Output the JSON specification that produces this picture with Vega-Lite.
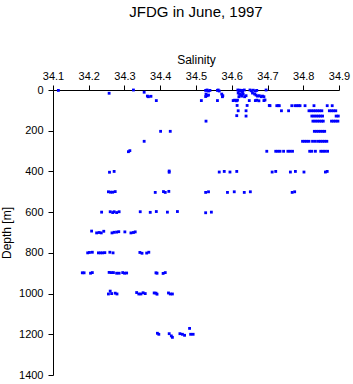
{
  "$schema": "https://vega.github.io/schema/vega-lite/v6.json",
  "width": 286,
  "height": 285,
  "autosize": "none",
  "padding": {"left": 53, "top": 90, "right": 14, "bottom": 9},
  "title": {"text": "JFDG in June, 1997", "fontSize": 15, "font": "Liberation Sans", "fontWeight": "normal", "color": "black", "offset": 33, "anchor": "middle"},
  "config": {
    "view": {"stroke": null},
    "font": "Liberation Sans",
    "axis": {"grid": false, "domainColor": "black", "tickColor": "black", "labelColor": "black", "titleColor": "black", "labelFontSize": 11, "titleFontSize": 12, "titleFontWeight": "normal", "labelFont": "Liberation Sans", "titleFont": "Liberation Sans", "tickSize": 5, "labelFlush": false}
  },
  "data": {"values": [
    {"s":34.115,"d":2},{"s":34.257,"d":16},{"s":34.325,"d":0},{"s":34.355,"d":11},{"s":34.364,"d":30},{"s":34.374,"d":31},{"s":34.367,"d":33},{"s":34.389,"d":52},
    {"s":34.527,"d":2},{"s":34.531,"d":0},{"s":34.535,"d":5},{"s":34.539,"d":2},{"s":34.528,"d":20},{"s":34.531,"d":28},{"s":34.535,"d":25},{"s":34.527,"d":32},{"s":34.515,"d":52},
    {"s":34.562,"d":0},{"s":34.565,"d":5},{"s":34.560,"d":2},{"s":34.572,"d":20},{"s":34.575,"d":28},{"s":34.574,"d":33},{"s":34.560,"d":52},
    {"s":34.617,"d":0},{"s":34.620,"d":4},{"s":34.623,"d":1},{"s":34.627,"d":5},{"s":34.630,"d":2},{"s":34.635,"d":0},
    {"s":34.618,"d":15},{"s":34.622,"d":20},{"s":34.625,"d":25},{"s":34.628,"d":30},{"s":34.632,"d":20},{"s":34.636,"d":33},{"s":34.640,"d":28},{"s":34.620,"d":33},{"s":34.630,"d":12},
    {"s":34.604,"d":52},{"s":34.608,"d":50},{"s":34.613,"d":53},{"s":34.616,"d":50},
    {"s":34.615,"d":76},{"s":34.643,"d":76},{"s":34.618,"d":102},{"s":34.640,"d":102},{"s":34.614,"d":126},{"s":34.640,"d":128},
    {"s":34.651,"d":0},{"s":34.655,"d":4},{"s":34.660,"d":1},{"s":34.666,"d":5},{"s":34.670,"d":2},
    {"s":34.658,"d":15},{"s":34.664,"d":20},{"s":34.668,"d":25},{"s":34.672,"d":30},{"s":34.677,"d":28},{"s":34.682,"d":33},{"s":34.686,"d":30},{"s":34.690,"d":33},
    {"s":34.649,"d":52},{"s":34.666,"d":52},{"s":34.670,"d":50},{"s":34.676,"d":53},{"s":34.690,"d":52},{"s":34.693,"d":49},
    {"s":34.696,"d":0},{"s":34.705,"d":76},
    {"s":34.707,"d":77},{"s":34.726,"d":77},{"s":34.730,"d":77},{"s":34.733,"d":77},{"s":34.768,"d":77},{"s":34.777,"d":77},{"s":34.782,"d":77},{"s":34.787,"d":77},{"s":34.791,"d":77},{"s":34.805,"d":77},{"s":34.830,"d":77},{"s":34.867,"d":77},{"s":34.881,"d":77},
    {"s":34.739,"d":102},{"s":34.759,"d":102},{"s":34.816,"d":102},{"s":34.822,"d":102},{"s":34.828,"d":102},{"s":34.834,"d":102},{"s":34.840,"d":102},{"s":34.846,"d":102},{"s":34.852,"d":102},{"s":34.873,"d":102},{"s":34.879,"d":102},{"s":34.885,"d":102},{"s":34.891,"d":102},
    {"s":34.824,"d":128},{"s":34.830,"d":128},{"s":34.836,"d":128},{"s":34.842,"d":128},{"s":34.848,"d":128},{"s":34.854,"d":128},{"s":34.892,"d":128},{"s":34.898,"d":128},
    {"s":34.827,"d":153},{"s":34.833,"d":153},{"s":34.839,"d":153},{"s":34.845,"d":153},{"s":34.851,"d":153},{"s":34.856,"d":153},{"s":34.879,"d":153},{"s":34.885,"d":153},{"s":34.891,"d":153},{"s":34.897,"d":153},
    {"s":34.401,"d":203},{"s":34.428,"d":203},{"s":34.831,"d":203},{"s":34.837,"d":203},{"s":34.843,"d":203},{"s":34.849,"d":203},{"s":34.855,"d":203},{"s":34.860,"d":203},
    {"s":34.355,"d":252},{"s":34.798,"d":252},{"s":34.804,"d":252},{"s":34.810,"d":252},{"s":34.816,"d":252},{"s":34.826,"d":252},{"s":34.834,"d":252},{"s":34.842,"d":252},{"s":34.848,"d":252},{"s":34.854,"d":252},{"s":34.860,"d":252},{"s":34.866,"d":252},
    {"s":34.311,"d":303},{"s":34.315,"d":298},{"s":34.528,"d":153},
    {"s":34.698,"d":301},{"s":34.723,"d":301},{"s":34.729,"d":301},{"s":34.735,"d":301},{"s":34.745,"d":301},{"s":34.757,"d":301},{"s":34.763,"d":301},{"s":34.770,"d":301},{"s":34.818,"d":301},{"s":34.824,"d":301},{"s":34.834,"d":301},{"s":34.849,"d":301},{"s":34.855,"d":301},{"s":34.861,"d":301},{"s":34.868,"d":301},
    {"s":34.258,"d":404},{"s":34.271,"d":400},{"s":34.425,"d":398},{"s":34.425,"d":404},
    {"s":34.565,"d":403},{"s":34.579,"d":400},{"s":34.595,"d":403},{"s":34.614,"d":400},{"s":34.713,"d":403},{"s":34.723,"d":400},{"s":34.764,"d":403},{"s":34.778,"d":400},{"s":34.802,"d":403},{"s":34.862,"d":403},{"s":34.867,"d":400},
    {"s":34.255,"d":500},{"s":34.261,"d":502},{"s":34.267,"d":502},{"s":34.274,"d":499},{"s":34.386,"d":503},{"s":34.409,"d":499},{"s":34.414,"d":503},{"s":34.424,"d":498},
    {"s":34.527,"d":503},{"s":34.535,"d":500},{"s":34.588,"d":503},{"s":34.607,"d":500},{"s":34.635,"d":503},{"s":34.652,"d":500},{"s":34.769,"d":503},{"s":34.776,"d":500},
    {"s":34.236,"d":600},{"s":34.260,"d":598},{"s":34.267,"d":602},{"s":34.271,"d":598},{"s":34.278,"d":602},{"s":34.285,"d":598},{"s":34.344,"d":598},{"s":34.372,"d":601},{"s":34.389,"d":597},{"s":34.420,"d":600},{"s":34.448,"d":597},
    {"s":34.527,"d":603},{"s":34.543,"d":600},
    {"s":34.208,"d":693},{"s":34.222,"d":702},{"s":34.229,"d":700},{"s":34.235,"d":702},{"s":34.242,"d":694},{"s":34.265,"d":702},{"s":34.271,"d":699},{"s":34.278,"d":698},{"s":34.284,"d":696},{"s":34.301,"d":697},{"s":34.318,"d":702},{"s":34.325,"d":700},{"s":34.330,"d":697},
    {"s":34.197,"d":800},{"s":34.202,"d":798},{"s":34.210,"d":797},{"s":34.227,"d":800},{"s":34.233,"d":800},{"s":34.239,"d":800},{"s":34.245,"d":799},{"s":34.259,"d":797},{"s":34.268,"d":800},{"s":34.343,"d":798},{"s":34.349,"d":802},{"s":34.362,"d":801},{"s":34.368,"d":797},
    {"s":34.182,"d":898},{"s":34.187,"d":898},{"s":34.205,"d":900},{"s":34.210,"d":897},{"s":34.257,"d":896},{"s":34.263,"d":897},{"s":34.269,"d":897},{"s":34.278,"d":900},{"s":34.285,"d":900},{"s":34.295,"d":897},{"s":34.300,"d":900},{"s":34.306,"d":899},{"s":34.388,"d":898},{"s":34.391,"d":900},{"s":34.408,"d":901},{"s":34.414,"d":897},
    {"s":34.255,"d":1002},{"s":34.260,"d":988},{"s":34.264,"d":1000},{"s":34.274,"d":998},{"s":34.279,"d":1002},{"s":34.334,"d":995},{"s":34.340,"d":1002},{"s":34.346,"d":1002},{"s":34.352,"d":996},{"s":34.358,"d":1000},{"s":34.383,"d":997},{"s":34.388,"d":998},{"s":34.391,"d":1003},{"s":34.423,"d":997},{"s":34.428,"d":1002},{"s":34.434,"d":1002},
    {"s":34.392,"d":1195},{"s":34.396,"d":1200},{"s":34.425,"d":1197},{"s":34.431,"d":1208},{"s":34.434,"d":1215},{"s":34.455,"d":1197},{"s":34.462,"d":1200},{"s":34.468,"d":1205},{"s":34.482,"d":1171},{"s":34.485,"d":1200},{"s":34.492,"d":1200}
  ]},
  "mark": {"type": "point", "shape": "square", "filled": true, "size": 8, "color": "#0000ff", "opacity": 1},
  "encoding": {
    "x": {"field": "s", "type": "quantitative", "scale": {"domain": [34.1, 34.9], "nice": false, "zero": false},
      "axis": {"orient": "top", "title": "Salinity", "values": [34.1,34.2,34.3,34.4,34.5,34.6,34.7,34.8,34.9], "format": ".1f", "labelPadding": 4, "titlePadding": 4, "labelOverlap": false}},
    "y": {"field": "d", "type": "quantitative", "scale": {"domain": [0, 1400], "reverse": true, "nice": false, "zero": false},
      "axis": {"title": "Depth [m]", "values": [0,200,400,600,800,1000,1200,1400], "format": "d", "labelPadding": 5, "titlePadding": 5}}
  }
}
